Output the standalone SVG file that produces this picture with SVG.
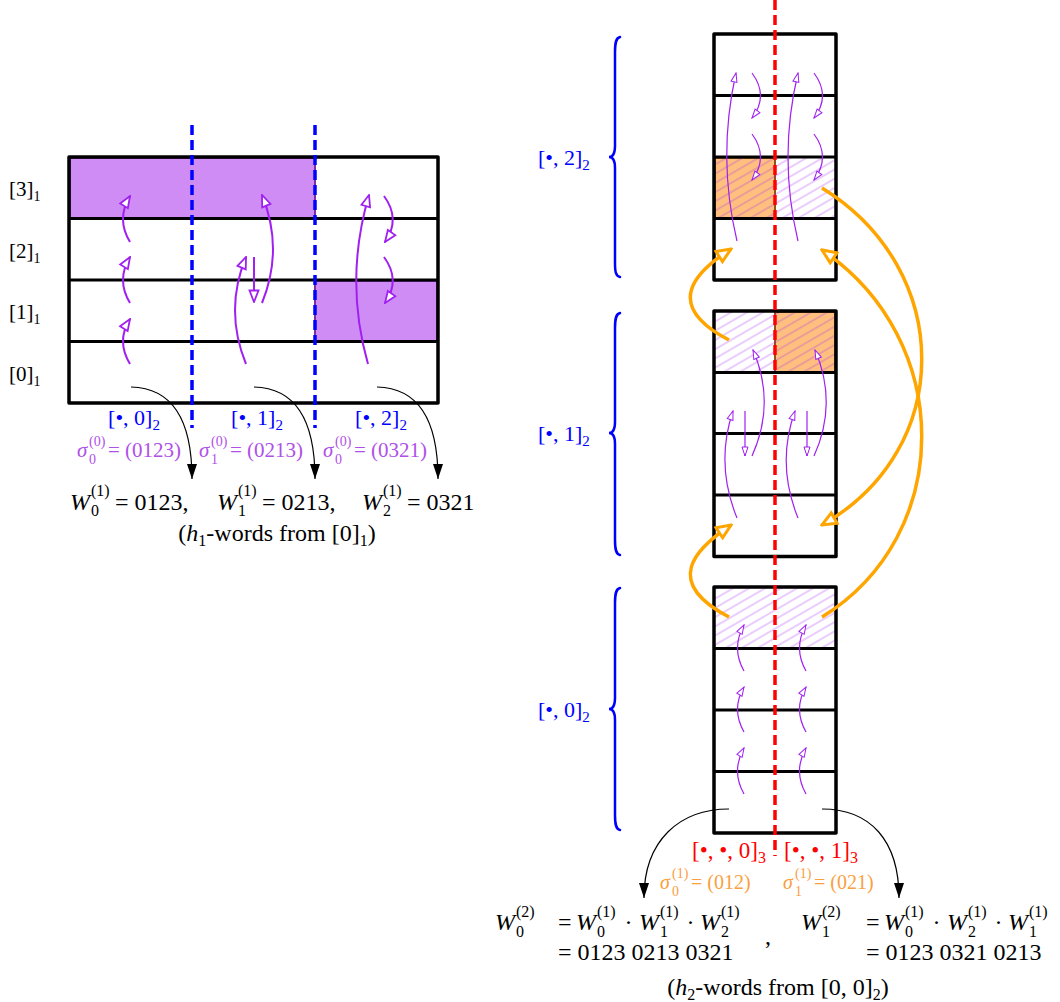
<svg xmlns="http://www.w3.org/2000/svg" width="1060" height="1002" viewBox="0 0 1060 1002">
<style>
.t{font-family:"Liberation Serif","Times New Roman",serif;fill:#000;}
.i{font-style:italic;}
.grid{fill:none;stroke:#000;stroke-width:3.5;stroke-linejoin:round;}
.rl{stroke:#000;stroke-width:3;}
.pf{fill:#CF8CF5;stroke:#7B2FA0;stroke-width:2;}
.of{fill:#FFC07F;stroke:#8E5418;stroke-width:2;}
.ht{fill:url(#hatch);}
.pa{fill:none;stroke:#A020F0;stroke-width:2;marker-end:url(#mp);}
.pas{fill:none;stroke:#A020F0;stroke-width:1.2;marker-end:url(#mps);}
.oa{fill:none;stroke:#FFA500;stroke-width:3.5;marker-end:url(#mo);}
.ba{fill:none;stroke:#000;stroke-width:1.2;marker-end:url(#mb);}
.bd{stroke:#0000FF;stroke-width:3.5;stroke-dasharray:10 5;}
.rd{stroke:#FF0000;stroke-width:3.5;stroke-dasharray:10 5;}
.br{fill:none;stroke:#0000FF;stroke-width:2.5;stroke-linecap:round;}
.blue{fill:#0000FF;}
.red{fill:#FF0000;}
.vio{fill:#B050E8;}
.org{fill:#F9A03F;}
</style>
<defs>
<pattern id="hatch" patternUnits="userSpaceOnUse" width="8" height="8" patternTransform="rotate(-30)">
<line x1="0" y1="4" x2="8" y2="4" stroke="#A020F0" stroke-opacity="0.35" stroke-width="1.3"/>
</pattern>
<marker id="mp" markerUnits="userSpaceOnUse" viewBox="0 0 14 12" markerWidth="14" markerHeight="12" refX="13" refY="6" orient="auto">
<path d="M1.5,1.5 L13,6 L1.5,10.5 Z" fill="#fff" stroke="#A020F0" stroke-width="1.8"/>
</marker>
<marker id="mps" markerUnits="userSpaceOnUse" viewBox="0 0 11 8" markerWidth="11" markerHeight="8" refX="10" refY="4" orient="auto">
<path d="M1,1 L10,4 L1,7 Z" fill="#fff" stroke="#A020F0" stroke-width="1"/>
</marker>
<marker id="mo" markerUnits="userSpaceOnUse" viewBox="0 0 18 16" markerWidth="18" markerHeight="16" refX="16" refY="8" orient="auto">
<path d="M2,2 L16,8 L2,14 Z" fill="#fff" stroke="#FFA500" stroke-width="3"/>
</marker>
<marker id="mb" markerUnits="userSpaceOnUse" viewBox="0 0 15 10" markerWidth="15" markerHeight="10" refX="15" refY="5" orient="auto">
<path d="M0,0 L15,5 L0,10 Z" fill="#000"/>
</marker>
</defs>
<rect width="1060" height="1002" fill="#fff"/>

<g id="left-grid">
<rect class="pf" x="70" y="158" width="245" height="60"/>
<rect class="pf" x="315" y="281" width="122" height="60"/>
<rect class="grid" x="69" y="157" width="369" height="246"/>
<line class="rl" x1="69" y1="218.5" x2="438" y2="218.5"/>
<line class="rl" x1="69" y1="280" x2="438" y2="280"/>
<line class="rl" x1="69" y1="341.5" x2="438" y2="341.5"/>
</g>

<g id="left-split-lines">
<line class="bd" x1="192" y1="125" x2="192" y2="428"/>
<line class="bd" x1="315" y1="125" x2="315" y2="428"/>
</g>

<g id="row-labels" class="t" font-size="21">
<text x="9" y="196">[3]<tspan font-size="14" dy="5">1</tspan></text>
<text x="9" y="258">[2]<tspan font-size="14" dy="5">1</tspan></text>
<text x="9" y="319">[1]<tspan font-size="14" dy="5">1</tspan></text>
<text x="9" y="381">[0]<tspan font-size="14" dy="5">1</tspan></text>
</g>

<g id="left-col-labels" font-size="22" text-anchor="middle">
<text class="t blue" x="134" y="425">[•, 0]<tspan font-size="15" dy="5">2</tspan></text>
<text class="t blue" x="257" y="425">[•, 1]<tspan font-size="15" dy="5">2</tspan></text>
<text class="t blue" x="381" y="425">[•, 2]<tspan font-size="15" dy="5">2</tspan></text>
</g>

<g id="left-sigma-labels" font-size="21">
<text class="t vio" x="77" y="457"><tspan class="i">σ</tspan><tspan font-size="14" x="89" y="446">(0)</tspan><tspan font-size="14" x="89" y="464">0</tspan><tspan x="108" y="457">= (0123)</tspan></text>
<text class="t vio" x="199" y="457"><tspan class="i">σ</tspan><tspan font-size="14" x="211" y="446">(0)</tspan><tspan font-size="14" x="211" y="464">1</tspan><tspan x="230" y="457">= (0213)</tspan></text>
<text class="t vio" x="323" y="457"><tspan class="i">σ</tspan><tspan font-size="14" x="335" y="446">(0)</tspan><tspan font-size="14" x="335" y="464">0</tspan><tspan x="354" y="457">= (0321)</tspan></text>
</g>

<g id="h1-words" font-size="24">
<text class="t" x="70" y="510"><tspan class="i">W</tspan><tspan font-size="16" x="91" y="496">(1)</tspan><tspan font-size="16" x="91" y="516">0</tspan><tspan x="115" y="510">= 0123,</tspan></text>
<text class="t" x="217" y="510"><tspan class="i">W</tspan><tspan font-size="16" x="238" y="496">(1)</tspan><tspan font-size="16" x="238" y="516">1</tspan><tspan x="262" y="510">= 0213,</tspan></text>
<text class="t" x="362" y="510"><tspan class="i">W</tspan><tspan font-size="16" x="383" y="496">(1)</tspan><tspan font-size="16" x="383" y="516">2</tspan><tspan x="407" y="510">= 0321</tspan></text>
<text class="t" x="277" y="541" text-anchor="middle">(<tspan class="i">h</tspan><tspan font-size="16" dy="5">1</tspan><tspan dy="-5">-words from [0]</tspan><tspan font-size="16" dy="5">1</tspan><tspan dy="-5">)</tspan></text>
</g>

<g id="block-2">
<rect class="of" x="715" y="158" width="60" height="60"/>
<rect class="ht" x="714" y="157" width="122" height="61.5"/>
<rect class="grid" x="714" y="34" width="122" height="246"/>
<line class="rl" x1="714" y1="95.5" x2="836" y2="95.5"/>
<line class="rl" x1="714" y1="157" x2="836" y2="157"/>
<line class="rl" x1="714" y1="218.5" x2="836" y2="218.5"/>
</g>
<g id="block-1">
<rect class="of" x="775" y="312" width="60" height="60"/>
<rect class="ht" x="714" y="311" width="122" height="61.5"/>
<rect class="grid" x="714" y="311" width="122" height="245.5"/>
<line class="rl" x1="714" y1="372.5" x2="836" y2="372.5"/>
<line class="rl" x1="714" y1="433.5" x2="836" y2="433.5"/>
<line class="rl" x1="714" y1="495" x2="836" y2="495"/>
</g>
<g id="block-0">
<rect class="ht" x="714" y="587" width="122" height="61.5"/>
<rect class="grid" x="714" y="587" width="122" height="246"/>
<line class="rl" x1="714" y1="648.5" x2="836" y2="648.5"/>
<line class="rl" x1="714" y1="710" x2="836" y2="710"/>
<line class="rl" x1="714" y1="771.5" x2="836" y2="771.5"/>
</g>

<g id="right-split-line">
<line class="rd" x1="775" y1="0" x2="775" y2="856"/>
</g>

<g id="braces">
<path class="br" d="M620,37 C615.5,38 615,44 615,52 L615,146 C615,153 613,157 609,157 C613,157 615,161 615,168 L615,263 C615,271 615.5,276 620,277"/>
<path class="br" d="M620,313 C615.5,314 615,320 615,328 L615,422 C615,429 613,433 609,433 C613,433 615,437 615,444 L615,540 C615,548 615.5,554 620,555"/>
<path class="br" d="M620,588 C615.5,589 615,595 615,603 L615,698 C615,705 613,709 609,709 C613,709 615,713 615,720 L615,815 C615,823 615.5,829 620,830"/>
</g>

<g id="brace-labels" font-size="22">
<text class="t blue" x="538" y="165">[•, 2]<tspan font-size="15" dy="5">2</tspan></text>
<text class="t blue" x="538" y="441">[•, 1]<tspan font-size="15" dy="5">2</tspan></text>
<text class="t blue" x="538" y="717">[•, 0]<tspan font-size="15" dy="5">2</tspan></text>
</g>

<g id="connectors">
<path class="pa" d="M130,242 Q116,219 130,196"/>
<path class="pa" d="M130,303 Q116,280 130,257"/>
<path class="pa" d="M130,364 Q116,341 130,319"/>
<path class="pa" d="M246,364 Q224,310 246,257"/>
<path class="pa" d="M254,257 L254,302"/>
<path class="pa" d="M262,303 Q284,249 262,195"/>
<path class="pa" d="M368,364 Q344,280 369,195"/>
<path class="pa" d="M384,196 Q401,219 385,242"/>
<path class="pa" d="M384,257 Q401,280 385,303"/>

<path class="ba" d="M131,387 C172,388 192,420 192,479"/>
<path class="ba" d="M254,387 C295,388 315,420 315,479"/>
<path class="ba" d="M377,387 C418,388 438,420 438,479"/>

<path class="pas" d="M737,241 Q717,157 736,73"/>
<path class="pas" d="M752,73 Q769,96 752,118"/>
<path class="pas" d="M752,134 Q769,157 752,180"/>
<path class="pas" d="M798,241 Q778,157 798,73"/>
<path class="pas" d="M814,73 Q831,96 814,118"/>
<path class="pas" d="M814,134 Q831,157 814,180"/>

<path class="pas" d="M737,518 Q715,464 733,411"/>
<path class="pas" d="M745,411 L745,456"/>
<path class="pas" d="M752,456 Q776,403 753,350"/>
<path class="pas" d="M798,518 Q776,464 795,411"/>
<path class="pas" d="M807,411 L807,456"/>
<path class="pas" d="M814,456 Q838,403 815,350"/>

<path class="pas" d="M744,794 Q731,771 744,748"/>
<path class="pas" d="M744,732 Q731,709 744,687"/>
<path class="pas" d="M744,671 Q731,648 744,625"/>
<path class="pas" d="M806,794 Q793,771 806,748"/>
<path class="pas" d="M806,732 Q793,709 806,687"/>
<path class="pas" d="M806,671 Q793,648 806,625"/>

<path class="oa" d="M822,188 C955,270 955,450 822,525"/>
<path class="oa" d="M822,617 C955,535 955,340 822,250"/>
<path class="oa" d="M729,340 C662,305 695,272 731,249"/>
<path class="oa" d="M729,617 C662,582 695,549 731,525"/>

<path class="ba" d="M729,809 C680,809 644,840 644,898"/>
<path class="ba" d="M822,809 C870,809 899,840 899,898"/>
</g>

<g id="right-part-labels" font-size="23">
<text class="t red" x="692" y="858">[•, •, 0]<tspan font-size="16" dy="5">3</tspan></text>
<text class="t red" x="784" y="858">[•, •, 1]<tspan font-size="16" dy="5">3</tspan></text>
</g>

<g id="right-sigma-labels" font-size="20">
<text class="t org" x="660" y="889"><tspan class="i">σ</tspan><tspan font-size="14" x="672" y="878">(1)</tspan><tspan font-size="14" x="672" y="896">0</tspan><tspan x="691" y="889">= (012)</tspan></text>
<text class="t org" x="783" y="889"><tspan class="i">σ</tspan><tspan font-size="14" x="795" y="878">(1)</tspan><tspan font-size="14" x="795" y="896">1</tspan><tspan x="814" y="889">= (021)</tspan></text>
</g>

<g id="h2-words" font-size="24">
<text class="t" x="495" y="930"><tspan class="i">W</tspan><tspan font-size="16" x="516" y="917">(2)</tspan><tspan font-size="16" x="516" y="937">0</tspan></text>
<text class="t" x="558" y="930">=<tspan class="i" x="576">W</tspan><tspan font-size="16" x="597" y="917">(1)</tspan><tspan font-size="16" x="597" y="937">0</tspan><tspan x="624.5" y="930">·</tspan><tspan class="i" x="639" y="930">W</tspan><tspan font-size="16" x="660" y="917">(1)</tspan><tspan font-size="16" x="660" y="937">1</tspan><tspan x="686.5" y="930">·</tspan><tspan class="i" x="700" y="930">W</tspan><tspan font-size="16" x="721" y="917">(1)</tspan><tspan font-size="16" x="721" y="937">2</tspan></text>
<text class="t" x="558" y="960">= 0123 0213 0321</text>
<text class="t" x="765" y="944">,</text>
<text class="t" x="801" y="930"><tspan class="i">W</tspan><tspan font-size="16" x="822" y="917">(2)</tspan><tspan font-size="16" x="822" y="937">1</tspan></text>
<text class="t" x="866" y="930">=<tspan class="i" x="884">W</tspan><tspan font-size="16" x="905" y="917">(1)</tspan><tspan font-size="16" x="905" y="937">0</tspan><tspan x="932.5" y="930">·</tspan><tspan class="i" x="947" y="930">W</tspan><tspan font-size="16" x="968" y="917">(1)</tspan><tspan font-size="16" x="968" y="937">2</tspan><tspan x="994.5" y="930">·</tspan><tspan class="i" x="1008" y="930">W</tspan><tspan font-size="16" x="1029" y="917">(1)</tspan><tspan font-size="16" x="1029" y="937">1</tspan></text>
<text class="t" x="866" y="960">= 0123 0321 0213</text>
<text class="t" x="778" y="995" text-anchor="middle">(<tspan class="i">h</tspan><tspan font-size="16" dy="5">2</tspan><tspan dy="-5">-words from [0, 0]</tspan><tspan font-size="16" dy="5">2</tspan><tspan dy="-5">)</tspan></text>
</g>
</svg>
